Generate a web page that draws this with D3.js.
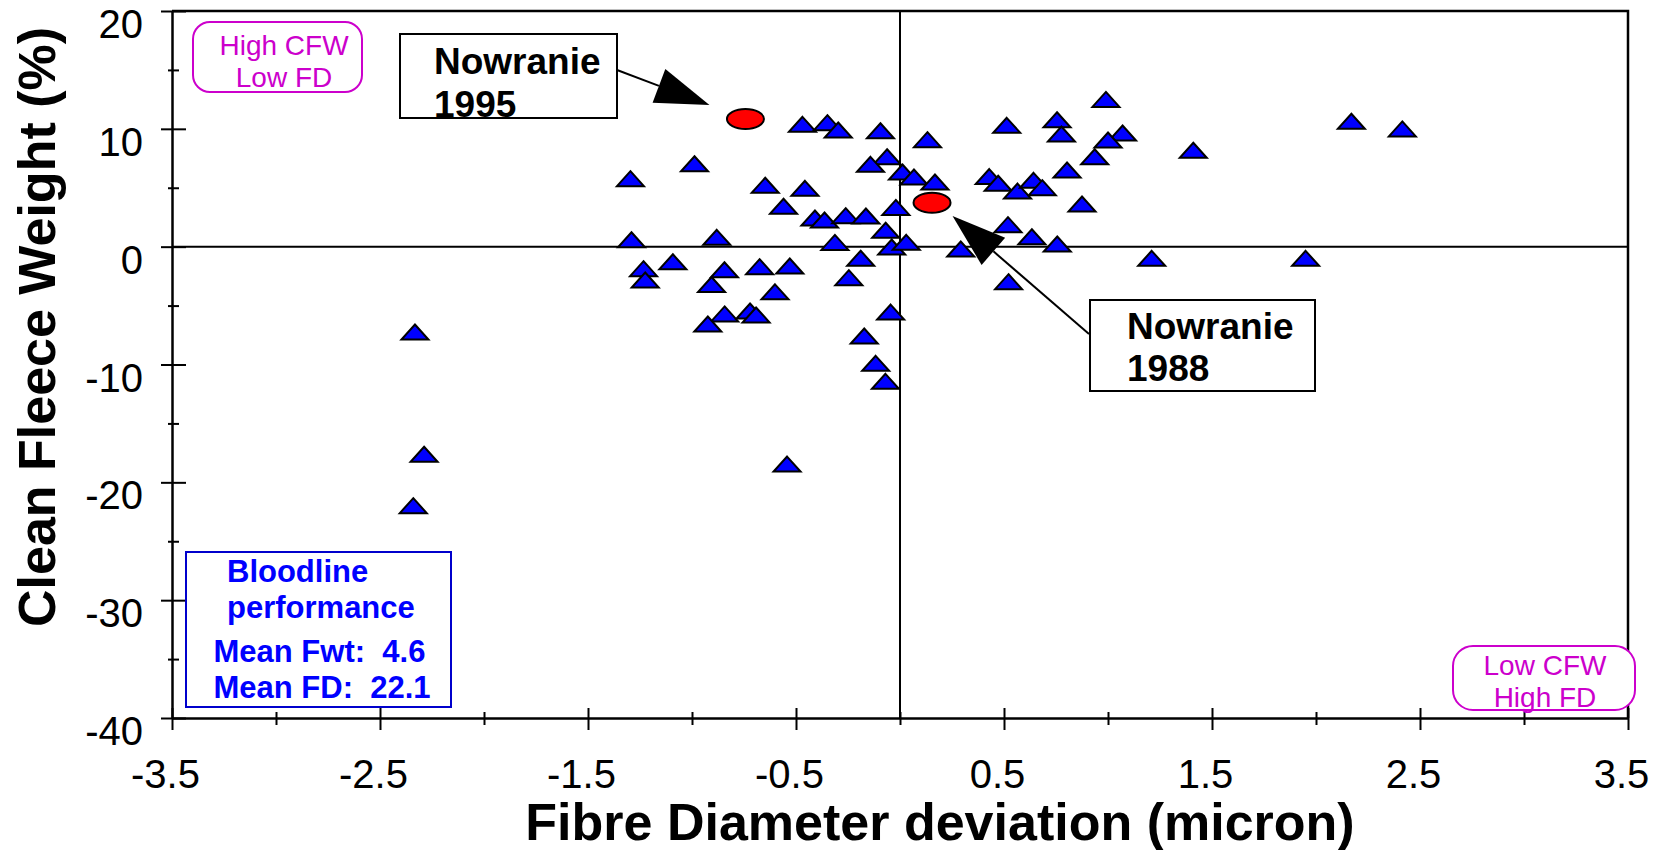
<!DOCTYPE html>
<html>
<head>
<meta charset="utf-8">
<script src="https://cdn.jsdelivr.net/npm/d3@7"></script>
<style>
  body { margin: 0; background: #fff; }
  svg { display: block; font-family: "Liberation Sans", Arial, sans-serif; }
</style>
</head>
<body>
<div id="chart"></div>
<script>
// bloodline deviations (fibre diameter, clean fleece weight)
const fdDev = [
  0.99, 2.17, 2.415, 1.07, 1.0, 0.936, 1.41, 0.875, 1.21, 1.95,
  -0.469, -0.349, -0.297, -0.094, 0.132, 0.513, 0.755, 0.776,
  -0.988, -1.296, -0.062, -0.142, 0.012, 0.067, 0.168, -0.648, -0.457,
  0.429, 0.472, 0.565, 0.642, 0.684, 0.803,
  -0.56, -0.409, -0.363, -0.261, -0.164, -0.02, -0.069, -0.313, -0.04, 0.03,
  0.519, 0.634, 0.756, 0.292, -1.291, -0.881, -1.092, -1.233, -1.225, -0.844,
  -0.906, -0.675, -0.53, -0.189, -0.246, -0.601, 0.522,
  -0.843, -0.721, -0.692, -0.924, -0.045, -0.172, -0.117, -0.07, -0.543,
  -2.332, -2.288, -2.34
];
const cfwDev = [
  12.5, 10.64, 9.99, 9.65, 9.05, 7.63, 8.18, 3.62, -0.99, -0.99,
  10.38, 10.52, 9.9, 9.84, 9.08, 10.3, 10.77, 9.56,
  7.04, 5.77, 7.63, 6.99, 6.34, 5.91, 5.49, 5.21, 4.95,
  5.95, 5.38, 4.72, 5.63, 5.01, 6.51,
  3.43, 2.43, 2.26, 2.63, 2.6, 3.33, 1.39, 0.36, -0.03, 0.37,
  1.87, 0.84, 0.23, -0.2, 0.59, 0.79, -1.28, -1.87, -2.83, -1.96,
  -3.21, -1.7, -1.64, -0.98, -2.63, -3.83, -2.97,
  -5.71, -5.46, -5.8, -6.56, -5.55, -7.58, -9.9, -11.43, -18.45,
  -7.24, -17.62, -21.98
];

// the two Nowranie sires
const sireYears = ['1995', '1988'];
const sireFd = [-0.743, 0.154];
const sireCfw = [10.83, 3.73];

const xTicks = d3.range(-3.5, 3.51, 0.5);
const xLabels = [-3.5, -2.5, -1.5, -0.5, 0.5, 1.5, 2.5, 3.5];
const yTicks = d3.range(-40, 20.1, 5);
const yLabels = [20, 10, 0, -10, -20, -30, -40];

const bloodlineLines = ['Bloodline', 'performance', 'Mean Fwt:  4.6', 'Mean FD:  22.1'];

const W = 1653, H = 850;
const margin = {top: 11, right: 25, bottom: 132, left: 172};

const svg = d3.select('#chart').append('svg')
  .attr('width', W).attr('height', H);

const x = d3.scaleLinear().domain([-3.5, 3.5]).range([margin.left, W - margin.right]);
const y = d3.scaleLinear().domain([-40, 20]).range([H - margin.bottom, margin.top]);

// zero lines
svg.append('line')
  .attr('x1', x(-3.5)).attr('x2', x(3.5)).attr('y1', y(0)).attr('y2', y(0))
  .attr('stroke', '#000').attr('stroke-width', 2);
svg.append('line')
  .attr('x1', x(0)).attr('x2', x(0)).attr('y1', y(20)).attr('y2', y(-40))
  .attr('stroke', '#000').attr('stroke-width', 2);

// top and right frame
svg.append('path')
  .attr('d', `M${x(-3.5)},${y(20)}H${x(3.5)}V${y(-40)}`)
  .attr('fill', 'none').attr('stroke', '#000').attr('stroke-width', 2.5);

// axes
const xAxis = svg.append('g')
  .attr('transform', `translate(0,${y(-40)})`)
  .call(d3.axisBottom(x).tickValues(xTicks).tickSizeOuter(0)
    .tickFormat(d => xLabels.includes(d) ? String(d) : ''));
xAxis.select('.domain').attr('stroke-width', 2.5);
xAxis.selectAll('.tick line')
  .attr('stroke-width', 2)
  .attr('y1', d => xLabels.includes(d) ? -10 : -6)
  .attr('y2', d => xLabels.includes(d) ? 12 : 7);
xAxis.selectAll('.tick text')
  .attr('x', -7).attr('y', 70).attr('dy', 0)
  .attr('font-size', 40).attr('font-family', null).attr('fill', '#000');

const yAxis = svg.append('g')
  .attr('transform', `translate(${x(-3.5)},0)`)
  .call(d3.axisLeft(y).tickValues(yTicks).tickSizeOuter(0)
    .tickFormat(d => yLabels.includes(d) ? String(d) : ''));
yAxis.select('.domain').attr('stroke-width', 2.5);
yAxis.selectAll('.tick line')
  .attr('stroke-width', 2)
  .attr('x1', d => yLabels.includes(d) ? -11 : -4)
  .attr('x2', d => yLabels.includes(d) ? 14 : 7);
yAxis.selectAll('.tick text')
  .attr('x', -29).attr('y', 26.5).attr('dy', 0)
  .attr('font-size', 40).attr('font-family', null).attr('fill', '#000');

// axis titles
svg.append('text')
  .attr('x', 940).attr('y', 840)
  .attr('text-anchor', 'middle').attr('font-size', 52).attr('font-weight', 'bold')
  .text('Fibre Diameter deviation (micron)');
svg.append('text')
  .attr('transform', 'translate(55,327) rotate(-90)')
  .attr('text-anchor', 'middle').attr('font-size', 52).attr('font-weight', 'bold')
  .text('Clean Fleece Weight (%)');

// bloodline triangles
const pts = fdDev.map((v, i) => [v, cfwDev[i]]);
svg.append('g').selectAll('path')
  .data(pts).join('path')
  .attr('transform', d => `translate(${x(d[0])},${y(d[1])})`)
  .attr('d', 'M0,-7.5L13.5,7.5L-13.5,7.5Z')
  .attr('fill', '#0000ff').attr('stroke', '#000').attr('stroke-width', 2);

// Nowranie sires
svg.append('g').selectAll('ellipse')
  .data(sireFd).join('ellipse')
  .attr('cx', d => x(d)).attr('cy', (d, i) => y(sireCfw[i]))
  .attr('rx', 18.5).attr('ry', 10)
  .attr('fill', '#ff0000').attr('stroke', '#000').attr('stroke-width', 2);

// callouts
function arrow(tail, tip) {
  const dx = tip[0] - tail[0], dy = tip[1] - tail[1];
  const L = Math.hypot(dx, dy), ux = dx / L, uy = dy / L;
  const len = 54, hw = 18;
  const bx = tip[0] - ux * len, by = tip[1] - uy * len;
  svg.append('line')
    .attr('x1', tail[0]).attr('y1', tail[1]).attr('x2', bx).attr('y2', by)
    .attr('stroke', '#000').attr('stroke-width', 2);
  svg.append('path')
    .attr('d', `M${tip[0]},${tip[1]}L${bx - uy * hw},${by + ux * hw}L${bx + uy * hw},${by - ux * hw}Z`)
    .attr('fill', '#000');
}

const callouts = [
  {box: [400, 34, 217, 84], text: [434, 74, 117], tail: [617, 70], off: [-36, -14]},
  {box: [1090, 300, 225, 91], text: [1127, 339, 381], tail: [1089, 334], off: [20.5, 13.3]}
];
callouts.forEach((c, i) => {
  const cx = x(sireFd[i]), cy = y(sireCfw[i]);
  arrow(c.tail, [cx + c.off[0], cy + c.off[1]]);
  svg.append('rect')
    .attr('x', c.box[0]).attr('y', c.box[1]).attr('width', c.box[2]).attr('height', c.box[3])
    .attr('fill', '#fff').attr('stroke', '#000').attr('stroke-width', 2);
  svg.append('text').attr('x', c.text[0]).attr('y', c.text[1])
    .attr('font-size', 37).attr('font-weight', 'bold').text('Nowranie');
  svg.append('text').attr('x', c.text[0]).attr('y', c.text[2])
    .attr('font-size', 37).attr('font-weight', 'bold').text(sireYears[i]);
});

// quadrant tags
const tags = [
  {box: [193, 22, 169, 70, 17], cx: 284, lines: ['High CFW', 'Low FD'], ys: [55, 87]},
  {box: [1453, 646, 182, 64, 20], cx: 1545, lines: ['Low CFW', 'High FD'], ys: [675, 707]}
];
tags.forEach(t => {
  svg.append('rect')
    .attr('x', t.box[0]).attr('y', t.box[1]).attr('width', t.box[2]).attr('height', t.box[3])
    .attr('rx', t.box[4])
    .attr('fill', '#fff').attr('stroke', '#cc00cc').attr('stroke-width', 2);
  t.lines.forEach((s, j) => {
    svg.append('text').attr('x', t.cx).attr('y', t.ys[j])
      .attr('text-anchor', 'middle').attr('font-size', 28).attr('fill', '#cc00cc')
      .text(s);
  });
});

// bloodline summary box
svg.append('rect')
  .attr('x', 186).attr('y', 552).attr('width', 265).attr('height', 155)
  .attr('fill', '#fff').attr('stroke', '#0000cc').attr('stroke-width', 2);
const bx = [227, 227, 213.5, 213.5], by = [582, 618, 662, 698];
bloodlineLines.forEach((s, i) => {
  svg.append('text').attr('x', bx[i]).attr('y', by[i])
    .attr('font-size', 31).attr('font-weight', 'bold').attr('fill', '#0000ff')
    .style('white-space', 'pre')
    .text(s);
});
</script>
</body>
</html>
